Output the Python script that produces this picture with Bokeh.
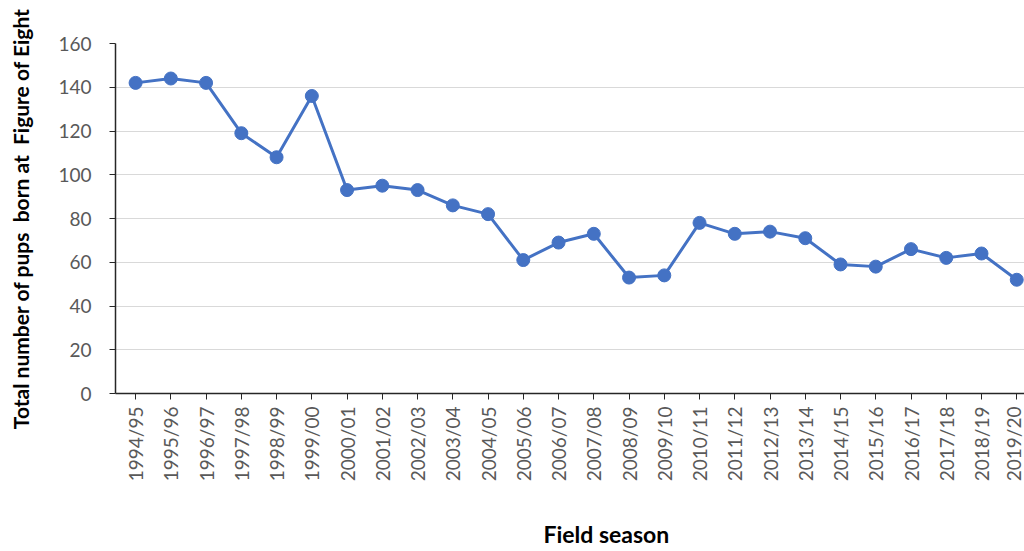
from bokeh.plotting import figure
from bokeh.embed import file_html
from bokeh.resources import INLINE
from bokeh.models import Range1d, FixedTicker, ColumnDataSource
import math

seasons = ["1994/95", "1995/96", "1996/97", "1997/98", "1998/99", "1999/00",
           "2000/01", "2001/02", "2002/03", "2003/04", "2004/05", "2005/06",
           "2006/07", "2007/08", "2008/09", "2009/10", "2010/11", "2011/12",
           "2012/13", "2013/14", "2014/15", "2015/16", "2016/17", "2017/18",
           "2018/19", "2019/20"]
pups = [142, 144, 142, 119, 108, 136, 93, 95, 93, 86, 82, 61, 69, 73, 53, 54,
        78, 73, 74, 71, 59, 58, 66, 62, 64, 52]
y_ticks = [0, 20, 40, 60, 80, 100, 120, 140, 160]

idx = list(range(len(seasons)))
src = ColumnDataSource(dict(x=idx, y=pups, season=seasons))

FONT = "Lato"
NB = "\u00a0"
p = figure(width=1024, height=551, output_backend="svg", toolbar_location=None,
           x_range=Range1d(-0.57, 25.22), y_range=Range1d(0, 160),
           min_border_left=115, min_border_right=0, min_border_top=43,
           min_border_bottom=156)
p.outline_line_color = None
p.background_fill_color = "white"
p.border_fill_color = "white"

p.line("x", "y", source=src, line_color="#4472C4", line_width=3)
p.scatter("x", "y", source=src, size=13, fill_color="#4472C4", line_color="#4472C4")

p.xgrid.grid_line_color = None
p.ygrid.grid_line_color = "#d9d9d9"
p.ygrid.grid_line_width = 1

p.yaxis.ticker = FixedTicker(ticks=y_ticks)
p.yaxis.minor_tick_line_color = None
p.yaxis.major_tick_out = 6
p.yaxis.major_tick_in = 0
p.yaxis.axis_line_color = "#262626"
p.yaxis.major_tick_line_color = "#262626"
p.yaxis.axis_line_width = 1.5
p.yaxis.major_label_text_font = FONT
p.yaxis.major_label_text_font_size = "19px"
p.yaxis.major_label_text_color = "#595959"
p.yaxis.major_label_standoff = 18
p.yaxis.axis_label = "Total number of pups" + NB + " born at" + NB + " Figure of Eight"
p.yaxis.axis_label_text_font = FONT
p.yaxis.axis_label_text_font_style = "bold"
p.yaxis.axis_label_text_font_size = "21px"
p.yaxis.axis_label_text_color = "black"
p.yaxis.axis_label_standoff = 22

p.xaxis.ticker = FixedTicker(ticks=idx)
p.xaxis.major_label_overrides = {i: s for i, s in enumerate(seasons)}
p.xaxis.major_label_orientation = math.pi / 2
p.xaxis.minor_tick_line_color = None
p.xaxis.major_tick_out = 6
p.xaxis.major_tick_in = 0
p.xaxis.axis_line_color = "#262626"
p.xaxis.major_tick_line_color = "#262626"
p.xaxis.axis_line_width = 1.5
p.xaxis.major_label_text_font = FONT
p.xaxis.major_label_text_font_size = "19px"
p.xaxis.major_label_text_color = "#595959"
p.xaxis.major_label_standoff = 7
p.xaxis.axis_label = NB * 13 + "Field season"
p.xaxis.axis_label_text_font = FONT
p.xaxis.axis_label_text_font_style = "bold"
p.xaxis.axis_label_text_font_size = "23px"
p.xaxis.axis_label_text_color = "black"
p.xaxis.axis_label_standoff = 36

open("out.html", "w").write(file_html(p, INLINE))
